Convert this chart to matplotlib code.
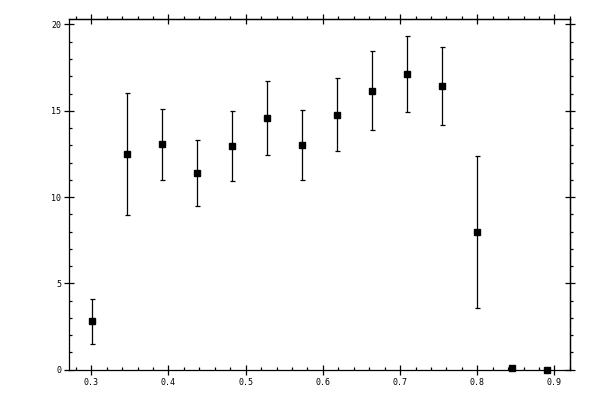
import matplotlib
matplotlib.use("Agg")
import matplotlib.pyplot as plt
from matplotlib.ticker import MultipleLocator

# values
x = [0.301, 0.346, 0.392, 0.437, 0.482, 0.528, 0.573,
     0.618, 0.663, 0.709, 0.754, 0.799, 0.845, 0.890]
y = [2.80, 12.49, 13.07, 11.38, 12.95, 14.58, 13.01,
     14.75, 16.14, 17.13, 16.43, 7.96, 0.12, 0.0]
y_hi = [4.10, 16.03, 15.10, 13.30, 15.00, 16.72, 15.06,
        16.90, 18.47, 19.34, 18.70, 12.37, 0.12, 0.0]
y_lo = [1.47, 8.94, 10.98, 9.47, 10.92, 12.43, 10.98,
        12.66, 13.88, 14.92, 14.17, 3.60, 0.12, 0.0]
x_ticks = [0.3, 0.4, 0.5, 0.6, 0.7, 0.8, 0.9]
y_ticks = [0, 5, 10, 15, 20]

err_lo = [v - lo for v, lo in zip(y, y_lo)]
err_hi = [hi - v for v, hi in zip(y, y_hi)]

plt.rcParams['font.family'] = ['DejaVu Sans Mono']

fig = plt.figure(figsize=(6, 4), dpi=100)
ax = fig.add_axes([0.1155, 0.0758, 0.835, 0.876])

ax.errorbar(x, y, yerr=[err_lo, err_hi], fmt='s', color='black',
            markersize=5, elinewidth=0.9, capsize=1.8, capthick=0.9,
            clip_on=False, zorder=5)

ax.set_xlim(0.2715, 0.9205)
ax.set_ylim(0, 20.3)

ax.xaxis.set_minor_locator(MultipleLocator(0.02))
ax.yaxis.set_minor_locator(MultipleLocator(1))
ax.set_xticks(x_ticks)
ax.set_xticklabels([f"{t:.1f}" for t in x_ticks])
ax.set_yticks(y_ticks)
ax.set_yticklabels([str(t) for t in y_ticks])

ax.tick_params(which='major', direction='inout', length=6.5, width=0.9,
               labelsize=6, pad=2.5)
ax.tick_params(which='minor', direction='in', length=2.5, width=0.9)

for s in ax.spines.values():
    s.set_linewidth(0.9)

# top and right axes: minor ticks point outward there
top = ax.secondary_xaxis('top')
top.set_xticks(x_ticks)
top.xaxis.set_minor_locator(MultipleLocator(0.02))
top.tick_params(which='major', direction='inout', length=6.5, width=0.9,
                labeltop=False)
top.tick_params(which='minor', direction='out', length=2.5, width=0.9)
top.spines['top'].set_linewidth(0.9)

right = ax.secondary_yaxis('right')
right.set_yticks(y_ticks)
right.yaxis.set_minor_locator(MultipleLocator(1))
right.tick_params(which='major', direction='inout', length=6.5, width=0.9,
                  labelright=False)
right.tick_params(which='minor', direction='out', length=2.5, width=0.9)
right.spines['right'].set_linewidth(0.9)

fig.savefig('out.png', dpi=100)
